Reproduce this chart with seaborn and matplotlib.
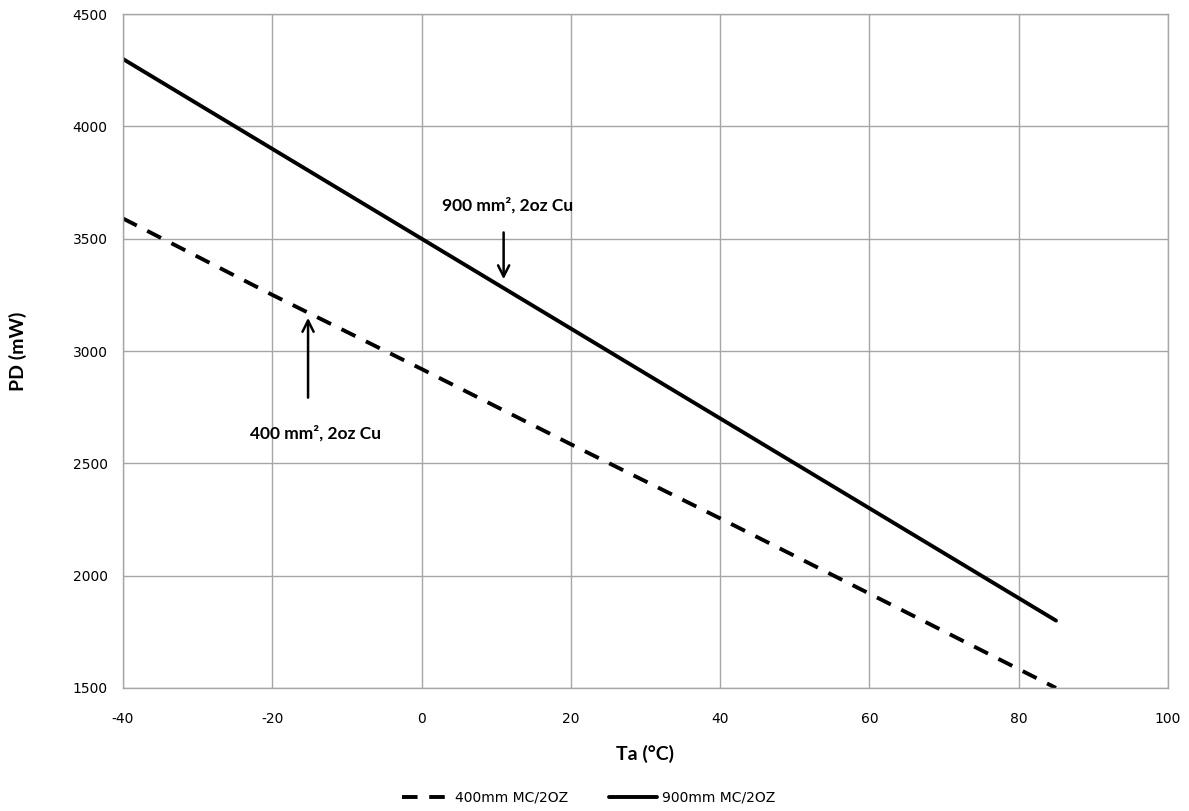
import pandas as pd
import matplotlib
matplotlib.use("Agg")
import matplotlib.pyplot as plt
import seaborn as sns

sns.set_style("white")
plt.rcParams["font.family"] = ["DejaVu Sans"]
plt.rcParams["axes.unicode_minus"] = False

# data
temps = [-40, -20, 0, 20, 40, 60, 85]
pd_400 = [3590, 3250, 2920, 2585, 2255, 1920, 1500]
pd_900 = [4300, 3900, 3500, 3100, 2700, 2300, 1800]
series_names = ["400mm MC/2OZ", "900mm MC/2OZ"]
x_ticks = [-40, -20, 0, 20, 40, 60, 80, 100]
y_ticks = [1500, 2000, 2500, 3000, 3500, 4000, 4500]

df = pd.concat([
    pd.DataFrame({"Ta": temps, "PD": pd_400, "series": series_names[0]}),
    pd.DataFrame({"Ta": temps, "PD": pd_900, "series": series_names[1]}),
])

fig = plt.figure(figsize=(11.89, 8.11), dpi=100)
ax = fig.add_axes([0.1034, 0.1517, 0.8789, 0.831])

grid_col = "#a6a6a6"
sns.lineplot(
    data=df, x="Ta", y="PD", style="series", style_order=series_names,
    dashes={series_names[0]: (4, 3), series_names[1]: ""},
    color="black", linewidth=2.8, ax=ax, legend=True,
)

ax.set_xlim(-40, 100)
ax.set_ylim(1500, 4500)
ax.set_xticks(x_ticks)
ax.set_yticks(y_ticks)
ax.grid(True, color=grid_col, linewidth=1)
ax.set_axisbelow(True)
for s in ax.spines.values():
    s.set_color(grid_col)
    s.set_linewidth(1)
ax.tick_params(axis="both", direction="out", length=5, color=grid_col,
               labelsize=10, labelcolor="black", pad=6)
ax.tick_params(axis="x", pad=12)

bold_font = ["Lato", "DejaVu Sans"]
ax.set_xlabel("Ta (°C)", fontsize=14, fontweight="bold", family=bold_font,
              color="black")
ax.xaxis.set_label_coords(0.5, -0.085)
ax.set_ylabel("PD (mW)", fontsize=14, fontweight="bold", family=bold_font,
              color="black")
ax.yaxis.set_label_coords(-0.092, 0.5)

# annotations
ax.annotate("", xy=(11.0, 3307), xytext=(11.0, 3540),
            arrowprops=dict(arrowstyle="->", color="black", lw=1.8,
                            mutation_scale=20))
ax.text(11.5, 3650, "900 mm², 2oz Cu", ha="center", va="center",
        fontsize=12.5, fontweight="bold", family=bold_font, color="black")
ax.annotate("", xy=(-15.2, 3160), xytext=(-15.2, 2780),
            arrowprops=dict(arrowstyle="->", color="black", lw=1.8,
                            mutation_scale=20))
ax.text(-14.2, 2635, "400 mm², 2oz Cu", ha="center", va="center",
        fontsize=12.5, fontweight="bold", family=bold_font, color="black")

handles, labels = ax.get_legend_handles_labels()
ax.get_legend().remove()
leg = fig.legend(handles, labels, loc="lower center", bbox_to_anchor=(0.495, -0.008),
                 ncol=2, frameon=False, fontsize=10, handlelength=3.4,
                 handletextpad=0.4, columnspacing=3.0)
for t in leg.get_texts():
    t.set_color("black")

fig.savefig("out.png", dpi=100)
